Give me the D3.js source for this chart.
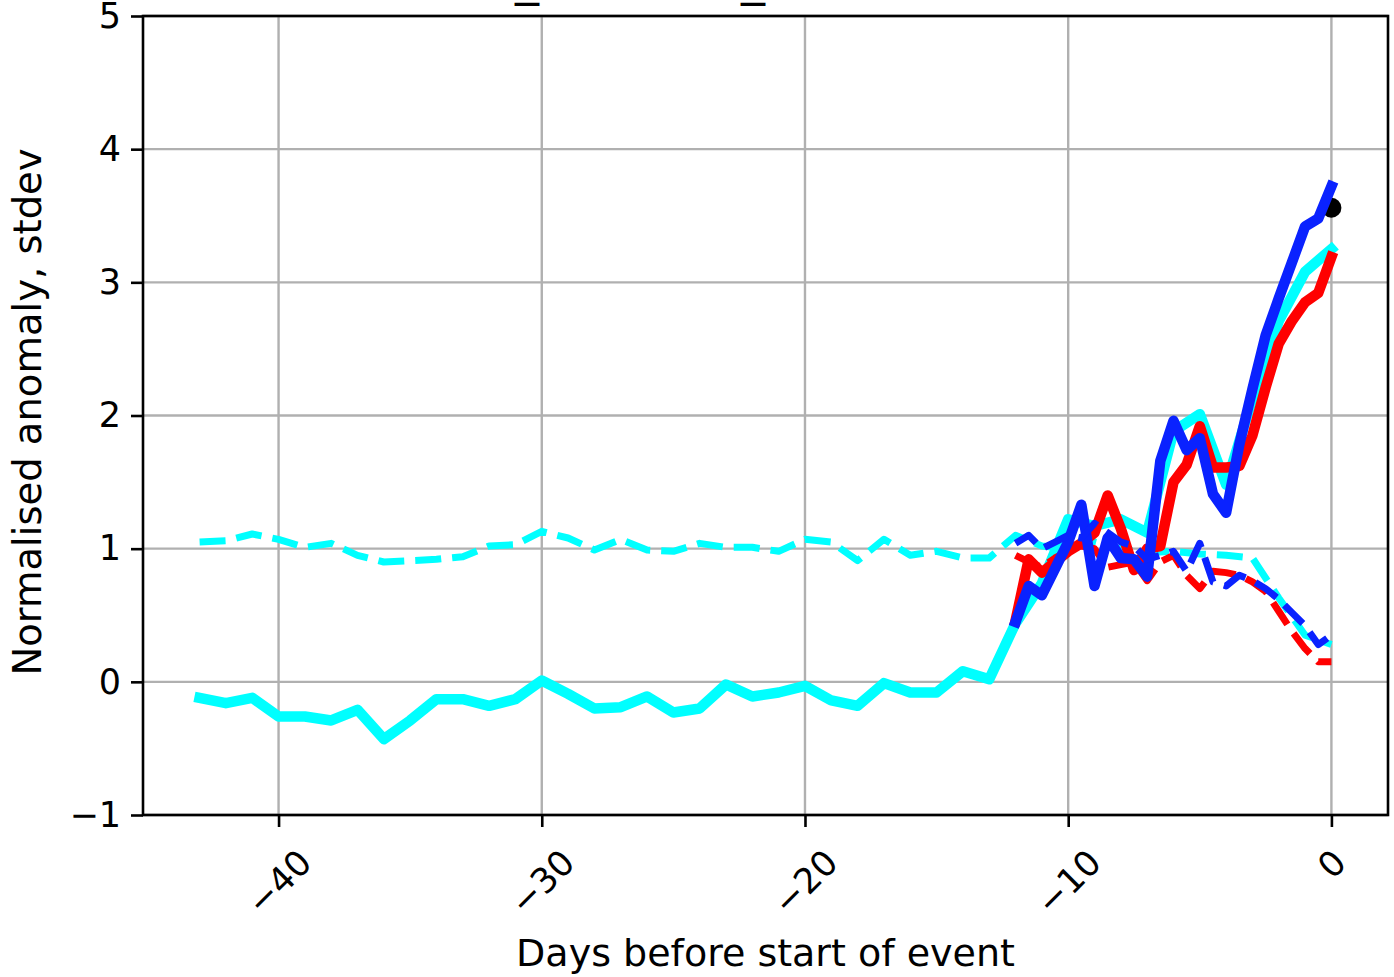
<!DOCTYPE html>
<html>
<head>
<meta charset="utf-8">
<script src="https://cdn.jsdelivr.net/npm/d3@7"></script>
<style>
  body { margin: 0; background: #fff; }
  svg { display: block; font-family: "DejaVu Sans", sans-serif; }
</style>
</head>
<body>
<div id="chart"></div>
<script>
// daily series, day -43 .. 0
const days = [-43, -42, -41, -40, -39, -38, -37, -36, -35, -34, -33, -32, -31, -30, -29,
  -28, -27, -26, -25, -24, -23, -22, -21, -20, -19, -18, -17, -16, -15, -14, -13,
  -12, -11, -10, -9, -8, -7, -6, -5, -4, -3, -2, -1, 0];
const cyanSolid = [-0.12, -0.16, -0.12, -0.26, -0.26, -0.29, -0.21, -0.43, -0.29, -0.13, -0.13,
  -0.18, -0.13, 0.01, -0.09, -0.20, -0.19, -0.11, -0.23, -0.20, -0.02, -0.11, -0.08, -0.03,
  -0.14, -0.18, -0.01, -0.08, -0.08, 0.08, 0.02,
  0.44, 0.74, 1.22, 1.17, 1.22, 1.12, 1.88, 2.01, 1.48, 2.13, 2.71, 3.08, 3.25];
const cyanDashed = [1.05, 1.06, 1.11, 1.07, 1.01, 1.04, 0.95, 0.90, 0.91, 0.92, 0.94,
  1.02, 1.03, 1.13, 1.08, 0.99, 1.07, 0.99, 0.98, 1.04, 1.01, 1.01, 0.98, 1.07,
  1.05, 0.91, 1.07, 0.95, 0.98, 0.93, 0.93,
  1.10, 1.02, 1.00, 1.05, 1.00, 0.97, 0.98, 0.96, 0.95, 0.93, 0.63, 0.35, 0.28];

// 12-hourly series, day -12 .. 0
const halfDays = [-12, -11.5, -11, -10.5, -10, -9.5, -9, -8.5, -8, -7.5, -7, -6.5, -6,
  -5.5, -5, -4.5, -4, -3.5, -3, -2.5, -2, -1.5, -1, -0.5, 0];
const redSolid = [0.46, 0.92, 0.82, 0.90, 0.98, 1.04, 1.12, 1.40, 1.15, 0.84, 1.00, 1.02, 1.50,
  1.63, 1.92, 1.61, 1.61, 1.62, 1.85, 2.21, 2.54, 2.71, 2.85, 2.92, 3.19];
const redDashed = [0.95, 0.90, 0.86, 0.93, 0.98, 1.02, 1.00, 0.86, 0.88, 0.90, 0.76, 0.90, 0.95,
  0.80, 0.70, 0.83, 0.82, 0.80, 0.75, 0.68, 0.53, 0.38, 0.25, 0.15, 0.15];
const blueSolid = [0.45, 0.72, 0.65, 0.85, 1.05, 1.33, 0.72, 1.08, 0.93, 0.92, 0.79, 1.66, 1.96,
  1.74, 1.83, 1.41, 1.27, 1.78, 2.20, 2.60, 2.88, 3.15, 3.42, 3.48, 3.72];
const blueDashed = [1.04, 1.10, 1.00, 1.05, 1.10, 1.08, 1.19, 1.12, 1.05, 1.02, 0.92, 0.95, 0.98,
  0.83, 1.04, 0.75, 0.72, 0.80, 0.76, 0.70, 0.62, 0.52, 0.42, 0.28, 0.35];

// observed value at event start
const eventPoint = { day: 0, value: 3.56 };

const xTicks = [-40, -30, -20, -10, 0];
const yTicks = [-1, 0, 1, 2, 3, 4, 5];

const width = 1394, height = 977;
const margin = { left: 143, right: 6, top: 16, bottom: 162 };
const innerW = width - margin.left - margin.right;
const innerH = height - margin.top - margin.bottom;

const svg = d3.select("#chart").append("svg")
  .attr("width", width)
  .attr("height", height);

const g = svg.append("g").attr("transform", `translate(${margin.left},${margin.top})`);

const x = d3.scaleLinear().domain([-45.15, 2.15]).range([0, innerW]);
const y = d3.scaleLinear().domain([-1, 5]).range([innerH, 0]);

// grid
g.append("g").selectAll("line").data(xTicks).join("line")
  .attr("x1", d => x(d)).attr("x2", d => x(d))
  .attr("y1", 0).attr("y2", innerH)
  .attr("stroke", "#b0b0b0").attr("stroke-width", 2.4);
g.append("g").selectAll("line").data(yTicks).join("line")
  .attr("x1", 0).attr("x2", innerW)
  .attr("y1", d => y(d)).attr("y2", d => y(d))
  .attr("stroke", "#b0b0b0").attr("stroke-width", 2.4);

const plot = g.append("g");
const line = (xs) => d3.line().x((d, i) => x(xs[i])).y(d => y(d));

// marker under the lines
plot.append("circle")
  .attr("cx", x(eventPoint.day)).attr("cy", y(eventPoint.value))
  .attr("r", 10).attr("fill", "#000");

const series = [
  { xs: days, vals: cyanDashed, color: "#00ffff", dashed: true },
  { xs: days, vals: cyanSolid, color: "#00ffff", dashed: false },
  { xs: halfDays, vals: redSolid, color: "#ff0000", dashed: false },
  { xs: halfDays, vals: redDashed, color: "#ff0000", dashed: true },
  { xs: halfDays, vals: blueSolid, color: "#0a22ff", dashed: false },
  { xs: halfDays, vals: blueDashed, color: "#0a22ff", dashed: true }
];

series.forEach(s => {
  plot.append("path")
    .datum(s.vals)
    .attr("d", line(s.xs))
    .attr("fill", "none")
    .attr("stroke", s.color)
    .attr("stroke-width", s.dashed ? 7 : 10.5)
    .attr("stroke-linejoin", "round")
    .attr("stroke-linecap", s.dashed ? "butt" : "square")
    .attr("stroke-dasharray", s.dashed ? "26,11" : null);
});

// axes
const xAxis = g.append("g")
  .attr("transform", `translate(0,${innerH})`)
  .call(d3.axisBottom(x).tickValues(xTicks).tickFormat(d3.format("d")).tickSize(12).tickSizeOuter(0));
const yAxis = g.append("g")
  .call(d3.axisLeft(y).tickValues(yTicks).tickFormat(d3.format("d")).tickSize(12).tickPadding(10).tickSizeOuter(0));

[xAxis, yAxis].forEach(a => {
  a.select(".domain").remove();
  a.selectAll(".tick line").attr("stroke", "#000").attr("stroke-width", 2.6);
  a.selectAll("text").attr("fill", "#000").style("font-size", "35px")
    .style("font-family", "DejaVu Sans, sans-serif");
});

// rotated x tick labels, centred like matplotlib rotation=45
xAxis.selectAll(".tick text").each(function () {
  const t = d3.select(this);
  t.attr("y", null).attr("dy", null)
    .attr("text-anchor", "middle").attr("dominant-baseline", "central");
  const w = this.getComputedTextLength();
  const h = 35 * 1.0;
  const cy = 29 + (w + h) / (2 * Math.SQRT2);
  t.attr("transform", `translate(0,${cy}) rotate(-45)`);
});

// frame
g.append("rect")
  .attr("width", innerW).attr("height", innerH)
  .attr("fill", "none").attr("stroke", "#000").attr("stroke-width", 2.6);

// labels
svg.append("text")
  .attr("x", margin.left + innerW / 2).attr("y", 966)
  .attr("text-anchor", "middle")
  .style("font-size", "38px")
  .text("Days before start of event");

svg.append("text")
  .attr("transform", `translate(41,${412}) rotate(-90)`)
  .attr("text-anchor", "middle")
  .style("font-size", "38.5px")
  .text("Normalised anomaly, stdev");

// title sits above the page, only its underscores show
svg.append("g").selectAll("text").data([527, 753]).join("text")
  .attr("x", d => d).attr("y", -5)
  .attr("text-anchor", "middle")
  .style("font-size", "48px")
  .text("_");
</script>
</body>
</html>
